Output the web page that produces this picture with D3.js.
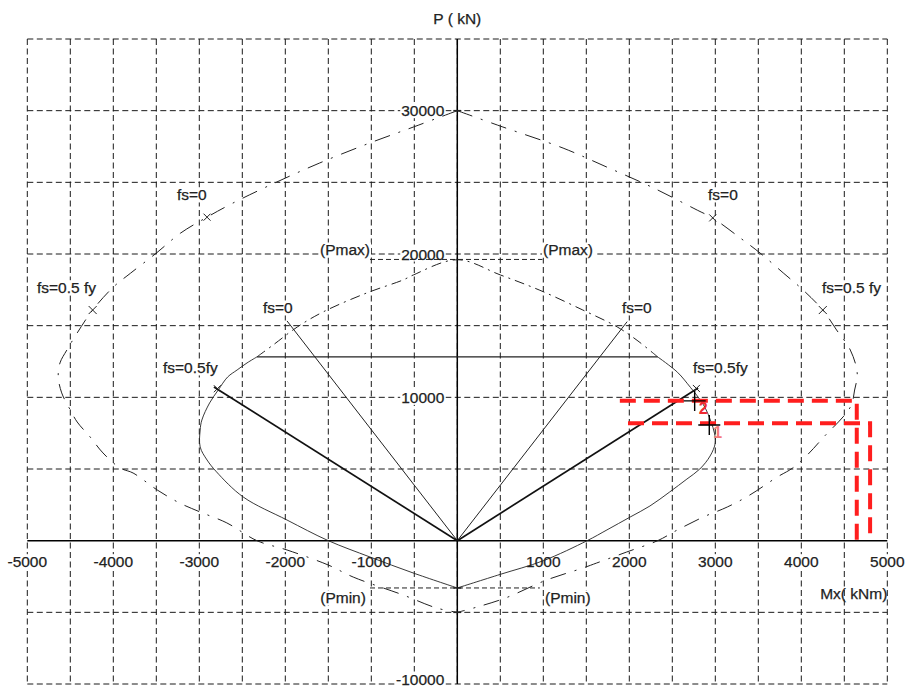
<!DOCTYPE html>
<html><head><meta charset="utf-8">
<script src="https://cdn.jsdelivr.net/npm/d3@7"></script>
<style>
html,body{margin:0;padding:0;background:#fff;}
svg{display:block;}
text{font-family:"Liberation Sans",Arial,sans-serif;}
</style></head>
<body>
<svg id="chart" width="905" height="687"></svg>
<script>
// ---------- data ----------
const xTickLabels = [-5000,-4000,-3000,-2000,-1000,1000,2000,3000,4000,5000];
const yTickLabels = [30000,20000,10000,-10000];

// outer (nominal) curve, right half from top to bottom
const outerRightM = [0,530,1230,1740,2260,2790,2970,3290,3520,3790,4020,4250,4410,4570,4650,4620,4570,4250,4070,3900,3720,3400,3140,2860,2560,2330,1970,1620,1460,1040,560,230,0];
const outerRightP = [30000,28860,27390,26060,24670,23060,22510,21120,20070,18680,17490,16090,14700,13300,11700,10510,9320,7160,5980,5070,4440,3180,2350,1650,750,0,-790,-1560,-1910,-2740,-4000,-4630,-5000];
// outer curve, left half from top to bottom
const outerLeftM = [0,-510,-1020,-1600,-2100,-2610,-2910,-3220,-3500,-3800,-4000,-4240,-4420,-4540,-4620,-4640,-4600,-4500,-4420,-4270,-4120,-3920,-3770,-3490,-3230,-2990,-2680,-2330,-1980,-1500,-1210,-630,-240,0];
const outerLeftP = [30000,28860,27740,26350,25020,23550,22570,21450,20060,18660,17690,16090,14490,13300,12400,11430,10310,9120,8280,7240,6120,5070,4720,3540,2630,2000,1240,0,-650,-1700,-2540,-3790,-4700,-5000];

// design curve, part above the cap (left cap end -> top -> right cap end)
const midUpperM = [-2330,-2140,-1860,-1560,-1050,-630,-510,0,500,960,1460,1860,2090,2330];
const midUpperP = [12820,13660,14910,15960,17290,18190,18540,19600,18540,17470,16090,14910,13980,12820];
// design curve, right part below the cap (cap -> bottom)
const midRightM = [2330,2560,2710,2790,2880,2950,2990,3000,2940,2820,2670,2470,2240,2010,1740,1510,1000,500,0];
const midRightP = [12820,11750,10700,10100,9300,8300,7500,6820,5910,5000,4300,3400,2420,1650,750,0,-1400,-2350,-3300];
// design curve, left part below the cap (cap -> bottom)
const midLeftM = [-2330,-2445,-2560,-2670,-2780,-2880,-2970,-2990,-2990,-2910,-2800,-2490,-1980,-1500,-1015,-515,0];
const midLeftP = [12820,12400,11910,11420,10510,9610,8420,7720,6540,5630,4800,3050,1440,0,-1140,-2250,-3300];

const capP = 12820, capM = [-2330, 2330];
const pMax = 19620, pMaxSpan = [-1015, 990];
const pMin = -3300, pMinSpan = [-1015, 960];

// radial lines from origin
const fs0Ends = [[-1980,15330],[1975,15280]];
const fs05Ends = [[-2830,10720],[2800,10650]];

// markers
const outerFs0Pts = [[-2910,22570],[2970,22520]];
const outerFs05Pts = [[-4240,16090],[4250,16090]];
const midFs05Pts = [[-2790,10600],[2780,10620]];

// load points
const loadNames = ["1","2"];
const loadM = [2930, 2760];
const loadP = [8070, 9750];
// red check lines (one per load point)
const checkP = [8190, 9770];
const checkMStart = [1985, 1890];
const checkMEnd = [4800, 4645];

// annotation texts [text, M, P, anchor]
const notes = [
  ["fs=0",-3259,24120,"start"],["fs=0",2916,24120,"start"],
  ["fs=0.5 fy",-4887,17650,"start"],["fs=0.5 fy",4241,17650,"start"],
  ["fs=0",-2259,16235,"start"],["fs=0",1915,16235,"start"],
  ["fs=0.5fy",-3422,12050,"start"],["fs=0.5fy",2741,12050,"start"],
  ["(Pmax)",-1015,20280,"end"],["(Pmax)",997,20280,"start"],
  ["(Pmin)",-1063,-3985,"end"],["(Pmin)",1020,-3985,"start"]
];

// ---------- drawing ----------
const svg = d3.select("#chart");
svg.append("rect").attr("width",905).attr("height",687).attr("fill","#fff");
const x = d3.scaleLinear().domain([-5000,5000]).range([27.3,887.3]);
const y = d3.scaleLinear().domain([-10000,35000]).range([684,39]);
const FS = "15.5px", TXT = "#222";

// grid
const gGrid = svg.append("g").attr("stroke","#1a1a1a").attr("stroke-width",1).attr("stroke-dasharray","6,3.5").attr("fill","none");
d3.range(-5000,5001,500).forEach(m=>{
  gGrid.append("line").attr("x1",x(m)).attr("x2",x(m)).attr("y1",y(35000)).attr("y2",y(-10000));
});
d3.range(-10000,35001,5000).forEach(p=>{
  if(p===0) return;
  gGrid.append("line").attr("x1",x(-5000)).attr("x2",x(5000)).attr("y1",y(p)).attr("y2",y(p));
});

// text helper with white background
const gText = svg.append("g");
function label(t, px, py, anchor, opts={}){
  const el = gText.append("text").attr("x",px).attr("y",py)
    .attr("text-anchor",anchor).attr("dominant-baseline","central")
    .attr("font-size",opts.size||FS).attr("fill",opts.fill||TXT)
    .attr("stroke",opts.fill||TXT).attr("stroke-width",0.25).text(t);
  if(opts.bg!==false){
    const b = el.node().getBBox();
    gText.insert("rect","text").attr("x",b.x-1).attr("y",b.y+1).attr("width",b.width+2).attr("height",b.height-2).attr("fill","#fff");
  }
  return el;
}

// axes lines
svg.append("line").attr("x1",x(-5000)).attr("x2",x(5000)).attr("y1",y(0)).attr("y2",y(0)).attr("stroke","#000").attr("stroke-width",1.5);
svg.append("line").attr("x1",x(0)).attr("x2",x(0)).attr("y1",y(35000)).attr("y2",y(-10000)).attr("stroke","#000").attr("stroke-width",1.5);

// tick labels
xTickLabels.forEach(v=>label(String(v), x(v), y(0)+21, "middle"));
yTickLabels.forEach(v=>label(String(v), x(0)-13, v===-10000 ? y(v)-5 : y(v), "end"));

// axis titles
label("P ( kN)", x(0), 18, "middle", {bg:false});
label("Mx( kNm)", x(5000), y(0)+53, "end", {bg:false});

// annotations
notes.forEach(n=>label(n[0], x(n[1]), y(n[2]), n[3]));

// curves
const zip = (M,P)=>M.map((m,i)=>[m,P[i]]);
const smooth = d3.line().x(d=>x(d[0])).y(d=>y(d[1])).curve(d3.curveCatmullRom.alpha(0.5));
const gCurves = svg.append("g").attr("fill","none");

// outer nominal curve (dash-dot)
[zip(outerRightM,outerRightP), zip(outerLeftM,outerLeftP)].forEach(pts=>{
  gCurves.append("path").attr("d",smooth(pts)).attr("stroke","#222").attr("stroke-width",1)
    .attr("stroke-dasharray","16,9,2,9");
});
// design curve above cap (dashed)
gCurves.append("path").attr("d",smooth(zip(midUpperM,midUpperP))).attr("stroke","#222").attr("stroke-width",1)
  .attr("stroke-dasharray","10,5,2,5");
// design curve below cap (solid thin)
[zip(midRightM,midRightP), zip(midLeftM,midLeftP)].forEach(pts=>{
  gCurves.append("path").attr("d",smooth(pts)).attr("stroke","#222").attr("stroke-width",0.9);
});
// cap line
gCurves.append("line").attr("x1",x(capM[0])).attr("x2",x(capM[1])).attr("y1",y(capP)).attr("y2",y(capP))
  .attr("stroke","#222").attr("stroke-width",1.2);
// Pmax / Pmin dashed lines
[[pMax,pMaxSpan],[pMin,pMinSpan]].forEach(([p,s])=>{
  gCurves.append("line").attr("x1",x(s[0])).attr("x2",x(s[1])).attr("y1",y(p)).attr("y2",y(p))
    .attr("stroke","#222").attr("stroke-width",1).attr("stroke-dasharray","5,3");
});
// radial lines
fs0Ends.forEach(e=>{
  gCurves.append("line").attr("x1",x(0)).attr("y1",y(0)).attr("x2",x(e[0])).attr("y2",y(e[1]))
    .attr("stroke","#222").attr("stroke-width",1);
});
fs05Ends.forEach(e=>{
  gCurves.append("line").attr("x1",x(0)).attr("y1",y(0)).attr("x2",x(e[0])).attr("y2",y(e[1]))
    .attr("stroke","#111").attr("stroke-width",1.7);
});
// small x markers
function xMark(p, s){
  const cx=x(p[0]), cy=y(p[1]);
  gCurves.append("path").attr("d",`M${cx-s},${cy-s}L${cx+s},${cy+s}M${cx-s},${cy+s}L${cx+s},${cy-s}`)
    .attr("stroke","#222").attr("stroke-width",1);
}
outerFs0Pts.forEach(p=>xMark(p,3.5));
outerFs05Pts.forEach(p=>xMark(p,4));
midFs05Pts.forEach(p=>xMark(p,3.5));
// axis end markers
[[0,30000],[0,-5000],[0,pMin]].forEach(p=>{
  gCurves.append("line").attr("x1",x(p[0])-4).attr("x2",x(p[0])+4).attr("y1",y(p[1])).attr("y2",y(p[1]))
    .attr("stroke","#222").attr("stroke-width",1.5);
});

// red check lines
const gRed = svg.append("g").attr("fill","none");
checkP.forEach((p,i)=>{
  const pts = [[checkMStart[i],p],[checkMEnd[i],p],[checkMEnd[i],0]];
  gRed.append("path").attr("d",d3.line().x(d=>x(d[0])).y(d=>y(d[1]))(pts))
    .attr("stroke","#ff1e1e").attr("stroke-width",4).attr("stroke-dasharray","16,8");
});

// load points
loadNames.forEach((n,i)=>{
  const cx=x(loadM[i]), cy=y(loadP[i]);
  gRed.append("path").attr("d",`M${cx-11},${cy}L${cx+11},${cy}M${cx},${cy-10}L${cx},${cy+10}`)
    .attr("stroke","#000").attr("stroke-width",1.4);
  svg.append("text").attr("x",cx+4).attr("y",cy+8).attr("dominant-baseline","central")
    .attr("font-size","16px").attr("font-weight","bold").attr("fill", i===0?"#f47a7a":"#ee2a30").text(n);
});
</script>
</body></html>
